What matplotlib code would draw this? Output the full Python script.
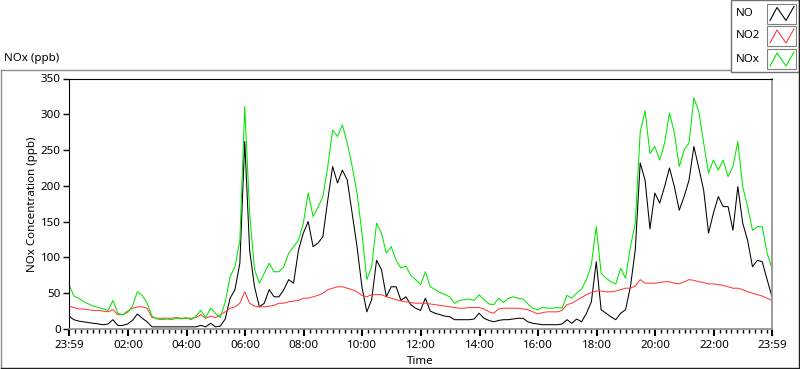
import numpy as np
import matplotlib.pyplot as plt
from matplotlib.lines import Line2D
from matplotlib.patches import Rectangle

# time axis: hours after midnight, 10 minute steps starting at 23:59 the day before
start_h = -1 / 60
step_h = 1 / 6
x_ticks = [start_h, 2, 4, 6, 8, 10, 12, 14, 16, 18, 20, 22, 24 + start_h]
x_tick_labels = ['23:59', '02:00', '04:00', '06:00', '08:00', '10:00', '12:00',
                 '14:00', '16:00', '18:00', '20:00', '22:00', '23:59']
y_ticks = [0, 50, 100, 150, 200, 250, 300, 350]

series_names = ['NO', 'NO2', 'NOx']

no_ppb = [
    18, 13, 11, 10, 9, 8, 7, 6, 7, 13, 5, 5,
    7, 12, 21, 15, 10, 3, 3, 3, 3, 3, 3, 3,
    3, 3, 3, 5, 3, 8, 3, 4, 14, 43, 55, 92,
    262, 110, 59, 31, 36, 55, 45, 45, 55, 69, 64, 110,
    134, 150, 115, 120, 129, 180, 227, 204, 222, 208, 162, 115,
    59, 24, 41, 96, 83, 45, 59, 59, 40, 45, 34, 29,
    26, 43, 25, 22, 20, 18, 17, 13, 13, 13, 13, 14,
    22, 15, 12, 10, 12, 13, 13, 14, 15, 15, 10, 8,
    7, 6, 6, 6, 6, 7, 13, 8, 14, 10, 22, 38,
    94, 27, 22, 17, 13, 22, 27, 59, 111, 232, 208, 140,
    190, 176, 199, 225, 199, 166, 185, 208, 255, 225, 194, 134,
    162, 185, 171, 171, 138, 199, 148, 124, 87, 96, 94, 69,
    45,
]

no2_ppb = [
    32, 30, 28, 28, 27, 26, 26, 25, 24, 27, 20, 20,
    25, 29, 31, 31, 29, 16, 15, 15, 15, 15, 16, 15,
    15, 15, 16, 20, 15, 18, 16, 20, 24, 29, 31, 36,
    52, 36, 32, 31, 31, 32, 33, 36, 36, 38, 39, 40,
    43, 43, 45, 47, 50, 55, 57, 59, 59, 57, 55, 52,
    47, 45, 48, 48, 48, 45, 43, 41, 39, 38, 37, 36,
    36, 36, 35, 34, 33, 32, 31, 30, 29, 29, 30, 30,
    30, 28, 24, 22, 28, 29, 29, 29, 29, 28, 27, 24,
    21, 23, 24, 24, 24, 26, 34, 36, 40, 44, 48, 51,
    53, 53, 52, 52, 53, 55, 57, 57, 60, 69, 64, 64,
    64, 65, 66, 66, 64, 63, 66, 69, 68, 66, 65, 63,
    63, 62, 61, 59, 57, 57, 55, 52, 50, 48, 46, 43,
    40,
]

nox_ppb = [
    62, 46, 43, 38, 35, 32, 30, 28, 26, 40, 22, 20,
    23, 32, 52, 47, 36, 18, 14, 13, 14, 13, 15, 14,
    16, 13, 18, 26, 16, 29, 22, 16, 38, 73, 87, 124,
    311, 162, 83, 64, 78, 92, 80, 80, 87, 106, 115, 124,
    148, 190, 157, 170, 185, 227, 278, 269, 285, 260, 227, 190,
    134, 69, 87, 148, 134, 106, 115, 96, 85, 88, 75, 69,
    62, 80, 59, 55, 51, 48, 45, 36, 40, 41, 42, 40,
    48, 41, 35, 34, 43, 37, 43, 45, 43, 42, 35, 29,
    27, 30, 29, 29, 30, 29, 47, 43, 50, 56, 69, 90,
    143, 78, 71, 66, 63, 85, 71, 115, 148, 275, 305, 245,
    255, 236, 260, 302, 274, 227, 250, 260, 323, 304, 260, 218,
    236, 222, 236, 213, 227, 262, 199, 171, 138, 143, 143, 106,
    85,
]

colors = ['black', '#ff3c3c', '#00e600']

W, H = 800, 369
plt.rcParams['font.family'] = ['Noto Sans', 'DejaVu Sans']
fig = plt.figure(figsize=(W / 100, H / 100), dpi=100)
fig.patch.set_facecolor('white')


def fx(px):
    return px / W


def fy(py):
    return 1 - py / H


# outer frame: light top/left, dark bottom/right
fig.add_artist(Line2D([fx(0.5), fx(730)], [fy(69.5), fy(69.5)], color='#8c8c8c', lw=1))
fig.add_artist(Line2D([fx(0.5), fx(0.5)], [fy(69.5), fy(367.5)], color='#8c8c8c', lw=1))
fig.add_artist(Line2D([fx(0.5), fx(798.5)], [fy(367.5), fy(367.5)], color='#202020', lw=1))
fig.add_artist(Line2D([fx(798.5), fx(798.5)], [fy(0), fy(367.5)], color='#202020', lw=1))

fig.text(fx(4), fy(58), 'NOx (ppb)', fontsize=8.3, ha='left', va='center')

# plot area
ax = fig.add_axes([fx(69), fy(329), fx(772 - 69), (329 - 78.5) / H])
times = [start_h + i * step_h for i in range(len(no_ppb))]
for vals, c in zip([no_ppb, no2_ppb, nox_ppb], colors):
    ax.plot(times, vals, color=c, lw=0.75)

ax.set_xlim(start_h, 24 + start_h)
ax.set_ylim(0, 350)
ax.set_xticks(x_ticks)
ax.set_xticklabels(x_tick_labels)
ax.set_xticks(np.arange(0.2, 24, 0.2), minor=True)
ax.set_yticks(y_ticks)
ax.tick_params(axis='both', labelsize=8.3, colors='black', direction='out')
ax.tick_params(axis='x', which='major', length=5, width=1.5, pad=3)
ax.tick_params(axis='x', which='minor', length=3, width=1)
ax.tick_params(axis='y', which='major', length=4, width=1, pad=2)
for side in ['top', 'left']:
    ax.spines[side].set_color('black')
for side in ['bottom', 'right']:
    ax.spines[side].set_color('#8c8c8c')
    ax.spines[side].set_linewidth(1.2)
ax.set_xlabel('Time', fontsize=8.3)
ax.xaxis.set_label_coords(0.5, -(356 - 329) / 250.5)
ax.set_ylabel('NOx Concentration (ppb)', fontsize=8.3)
ax.yaxis.set_label_coords(-(69 - 38) / 703, 0.5)

# legend box in top right corner
fig.add_artist(Rectangle((fx(730.5), fy(72)), fx(68), 72 / H, facecolor='white',
                         edgecolor='#707070', lw=1))
for i, name in enumerate(series_names):
    cy = [13.5, 36, 59][i]
    fig.text(fx(736), fy(cy), name, fontsize=8.3, ha='left', va='center')
    fig.add_artist(Rectangle((fx(767), fy(cy + 10)), fx(29), 20 / H, facecolor='white',
                             edgecolor='#808080', lw=0.8))
    zx = [770, 777, 786, 794]
    zy = [cy + 7, cy - 6, cy + 7, cy - 7]
    fig.add_artist(Line2D([fx(v) for v in zx], [fy(v) for v in zy], color=colors[i], lw=0.8))

fig.savefig('out.png', dpi=100)
